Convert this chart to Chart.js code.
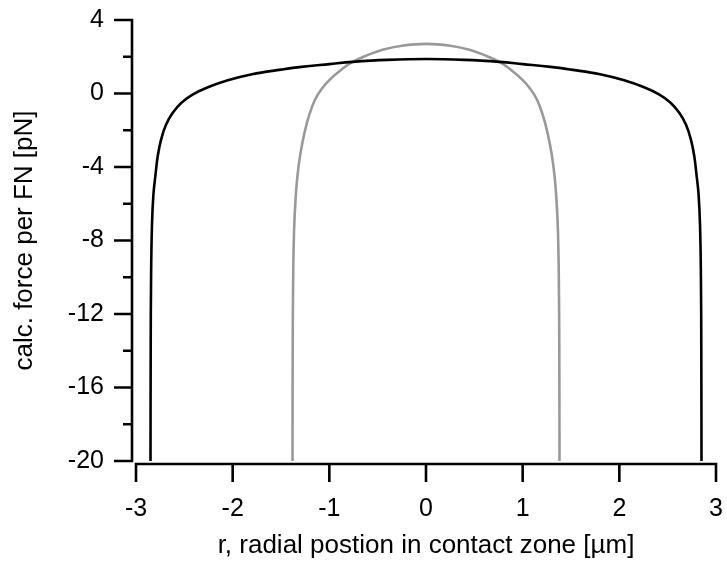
<!DOCTYPE html>
<html>
<head>
<meta charset="utf-8">
<script src="https://cdn.jsdelivr.net/npm/chart.js@4"></script>
<style>
    html, body { margin: 0; padding: 0; background: #fff; }
    canvas { display: block; }
</style>
</head>
<body>
<canvas id="forceChart" width="727" height="561"></canvas>
<script>
// ========================================
// DATA
// ========================================

// black curve: r [µm], force [pN]
const blackR = [-2.85, -2.848, -2.844, -2.835, -2.82, -2.80, -2.775, -2.74, -2.69, -2.62, -2.53, -2.41, -2.25, -2.05, -1.80, -1.50, -1.29, -1.00, -0.76, -0.40, 0,
    0.40, 0.76, 1.00, 1.29, 1.50, 1.80, 2.05, 2.25, 2.41, 2.53, 2.62, 2.69, 2.74, 2.775, 2.80, 2.82, 2.835, 2.844, 2.848, 2.85];
const blackF = [-20, -14, -10, -7.2, -5.5, -4.5, -3.4, -2.5, -1.7, -1.05, -0.5, -0.05, 0.35, 0.72, 1.05, 1.3, 1.45, 1.6, 1.72, 1.83, 1.88,
    1.83, 1.72, 1.6, 1.45, 1.3, 1.05, 0.72, 0.35, -0.05, -0.5, -1.05, -1.7, -2.5, -3.4, -4.5, -5.5, -7.2, -10, -14, -20];

// gray curve
const grayR = [-1.381, -1.379, -1.374, -1.365, -1.35, -1.33, -1.30, -1.26, -1.21, -1.15, -1.08, -0.99, -0.88, -0.76, -0.60, -0.45, -0.25, 0,
    0.25, 0.45, 0.60, 0.76, 0.88, 0.99, 1.08, 1.15, 1.21, 1.26, 1.30, 1.33, 1.35, 1.365, 1.374, 1.379, 1.381];
const grayF = [-20, -14, -10, -7.5, -5.8, -4.5, -3.3, -2.2, -1.2, -0.35, 0.25, 0.78, 1.28, 1.72, 2.1, 2.38, 2.6, 2.7,
    2.6, 2.38, 2.1, 1.72, 1.28, 0.78, 0.25, -0.35, -1.2, -2.2, -3.3, -4.5, -5.8, -7.5, -10, -14, -20];

// axis ranges and ticks
const xTicks = [-3, -2, -1, 0, 1, 2, 3];
const yMajorTicks = [-20, -16, -12, -8, -4, 0, 4];
const yMinorTicks = [-18, -14, -10, -6, -2, 2];

const xTitle = 'r, radial postion in contact zone [µm]';
const yTitle = 'calc. force per FN [pN]';

const FONT = "'Liberation Sans', Arial, Helvetica, sans-serif";

function toPoints(xs, ys) {
    return xs.map((x, i) => ({ x: x, y: ys[i] }));
}

// ========================================
// AXES PLUGIN (offset axis lines, major/minor ticks)
// ========================================

const igorAxes = {
    id: 'igorAxes',
    afterDraw(chart) {
        const { ctx, chartArea, scales: { x, y } } = chart;
        const ax = chartArea.left - 4;
        const ay = chartArea.bottom + 3;

        ctx.save();
        ctx.strokeStyle = '#000';
        ctx.lineWidth = 2.6;
        ctx.lineCap = 'butt';

        // y axis
        ctx.beginPath();
        ctx.moveTo(ax, y.getPixelForValue(yMajorTicks[yMajorTicks.length - 1]) - 1.3);
        ctx.lineTo(ax, y.getPixelForValue(yMajorTicks[0]) + 1.3);
        yMajorTicks.forEach(v => {
            const py = y.getPixelForValue(v);
            ctx.moveTo(ax - 18, py);
            ctx.lineTo(ax, py);
        });
        yMinorTicks.forEach(v => {
            const py = y.getPixelForValue(v);
            ctx.moveTo(ax - 9, py);
            ctx.lineTo(ax, py);
        });
        ctx.stroke();

        // x axis
        ctx.beginPath();
        ctx.moveTo(x.getPixelForValue(xTicks[0]) - 1.3, ay);
        ctx.lineTo(x.getPixelForValue(xTicks[xTicks.length - 1]) + 1.3, ay);
        xTicks.forEach(v => {
            const px = x.getPixelForValue(v);
            ctx.moveTo(px, ay);
            ctx.lineTo(px, ay + 18);
        });
        ctx.stroke();
        ctx.restore();
    }
};

// ========================================
// CHART
// ========================================

const ctx = document.getElementById('forceChart').getContext('2d');

new Chart(ctx, {
    type: 'scatter',
    data: {
        datasets: [
            {
                label: 'wide',
                data: toPoints(blackR, blackF),
                showLine: true,
                borderColor: '#000000',
                borderWidth: 2.6,
                pointRadius: 0,
                tension: 0.4,
            },
            {
                label: 'narrow',
                data: toPoints(grayR, grayF),
                showLine: true,
                borderColor: '#999999',
                borderWidth: 2.6,
                pointRadius: 0,
                tension: 0.4,
            }
        ]
    },
    options: {
        responsive: false,
        animation: false,
        devicePixelRatio: 1,
        layout: {
            padding: { top: 20, right: 11, left: 0, bottom: 0 }
        },
        plugins: {
            legend: { display: false },
            tooltip: { enabled: false }
        },
        scales: {
            x: {
                type: 'linear',
                min: -3,
                max: 3,
                afterFit: s => {
                    s.height = 100;
                    s.paddingLeft = 0;
                    s.paddingRight = 0;
                },
                afterBuildTicks: s => { s.ticks = xTicks.map(v => ({ value: v })); },
                grid: { display: false, drawTicks: false },
                border: { display: false },
                ticks: {
                    color: '#000',
                    padding: 33,
                    maxRotation: 0,
                    font: { family: FONT, size: 25 }
                },
                title: {
                    display: true,
                    text: xTitle,
                    color: '#000',
                    padding: { top: 0, bottom: 0 },
                    font: { family: FONT, size: 26, lineHeight: 1.2 }
                }
            },
            y: {
                type: 'linear',
                min: -20,
                max: 4,
                afterFit: s => {
                    s.width = 136;
                    s.paddingTop = 0;
                    s.paddingBottom = 0;
                },
                afterBuildTicks: s => { s.ticks = yMajorTicks.map(v => ({ value: v })); },
                grid: { display: false, drawTicks: false },
                border: { display: false },
                ticks: {
                    color: '#000',
                    padding: 32,
                    font: { family: FONT, size: 25 }
                },
                title: {
                    display: true,
                    text: yTitle,
                    color: '#000',
                    padding: { top: 12, bottom: 0 },
                    font: { family: FONT, size: 26, lineHeight: 1 }
                }
            }
        }
    },
    plugins: [igorAxes]
});
</script>
</body>
</html>
